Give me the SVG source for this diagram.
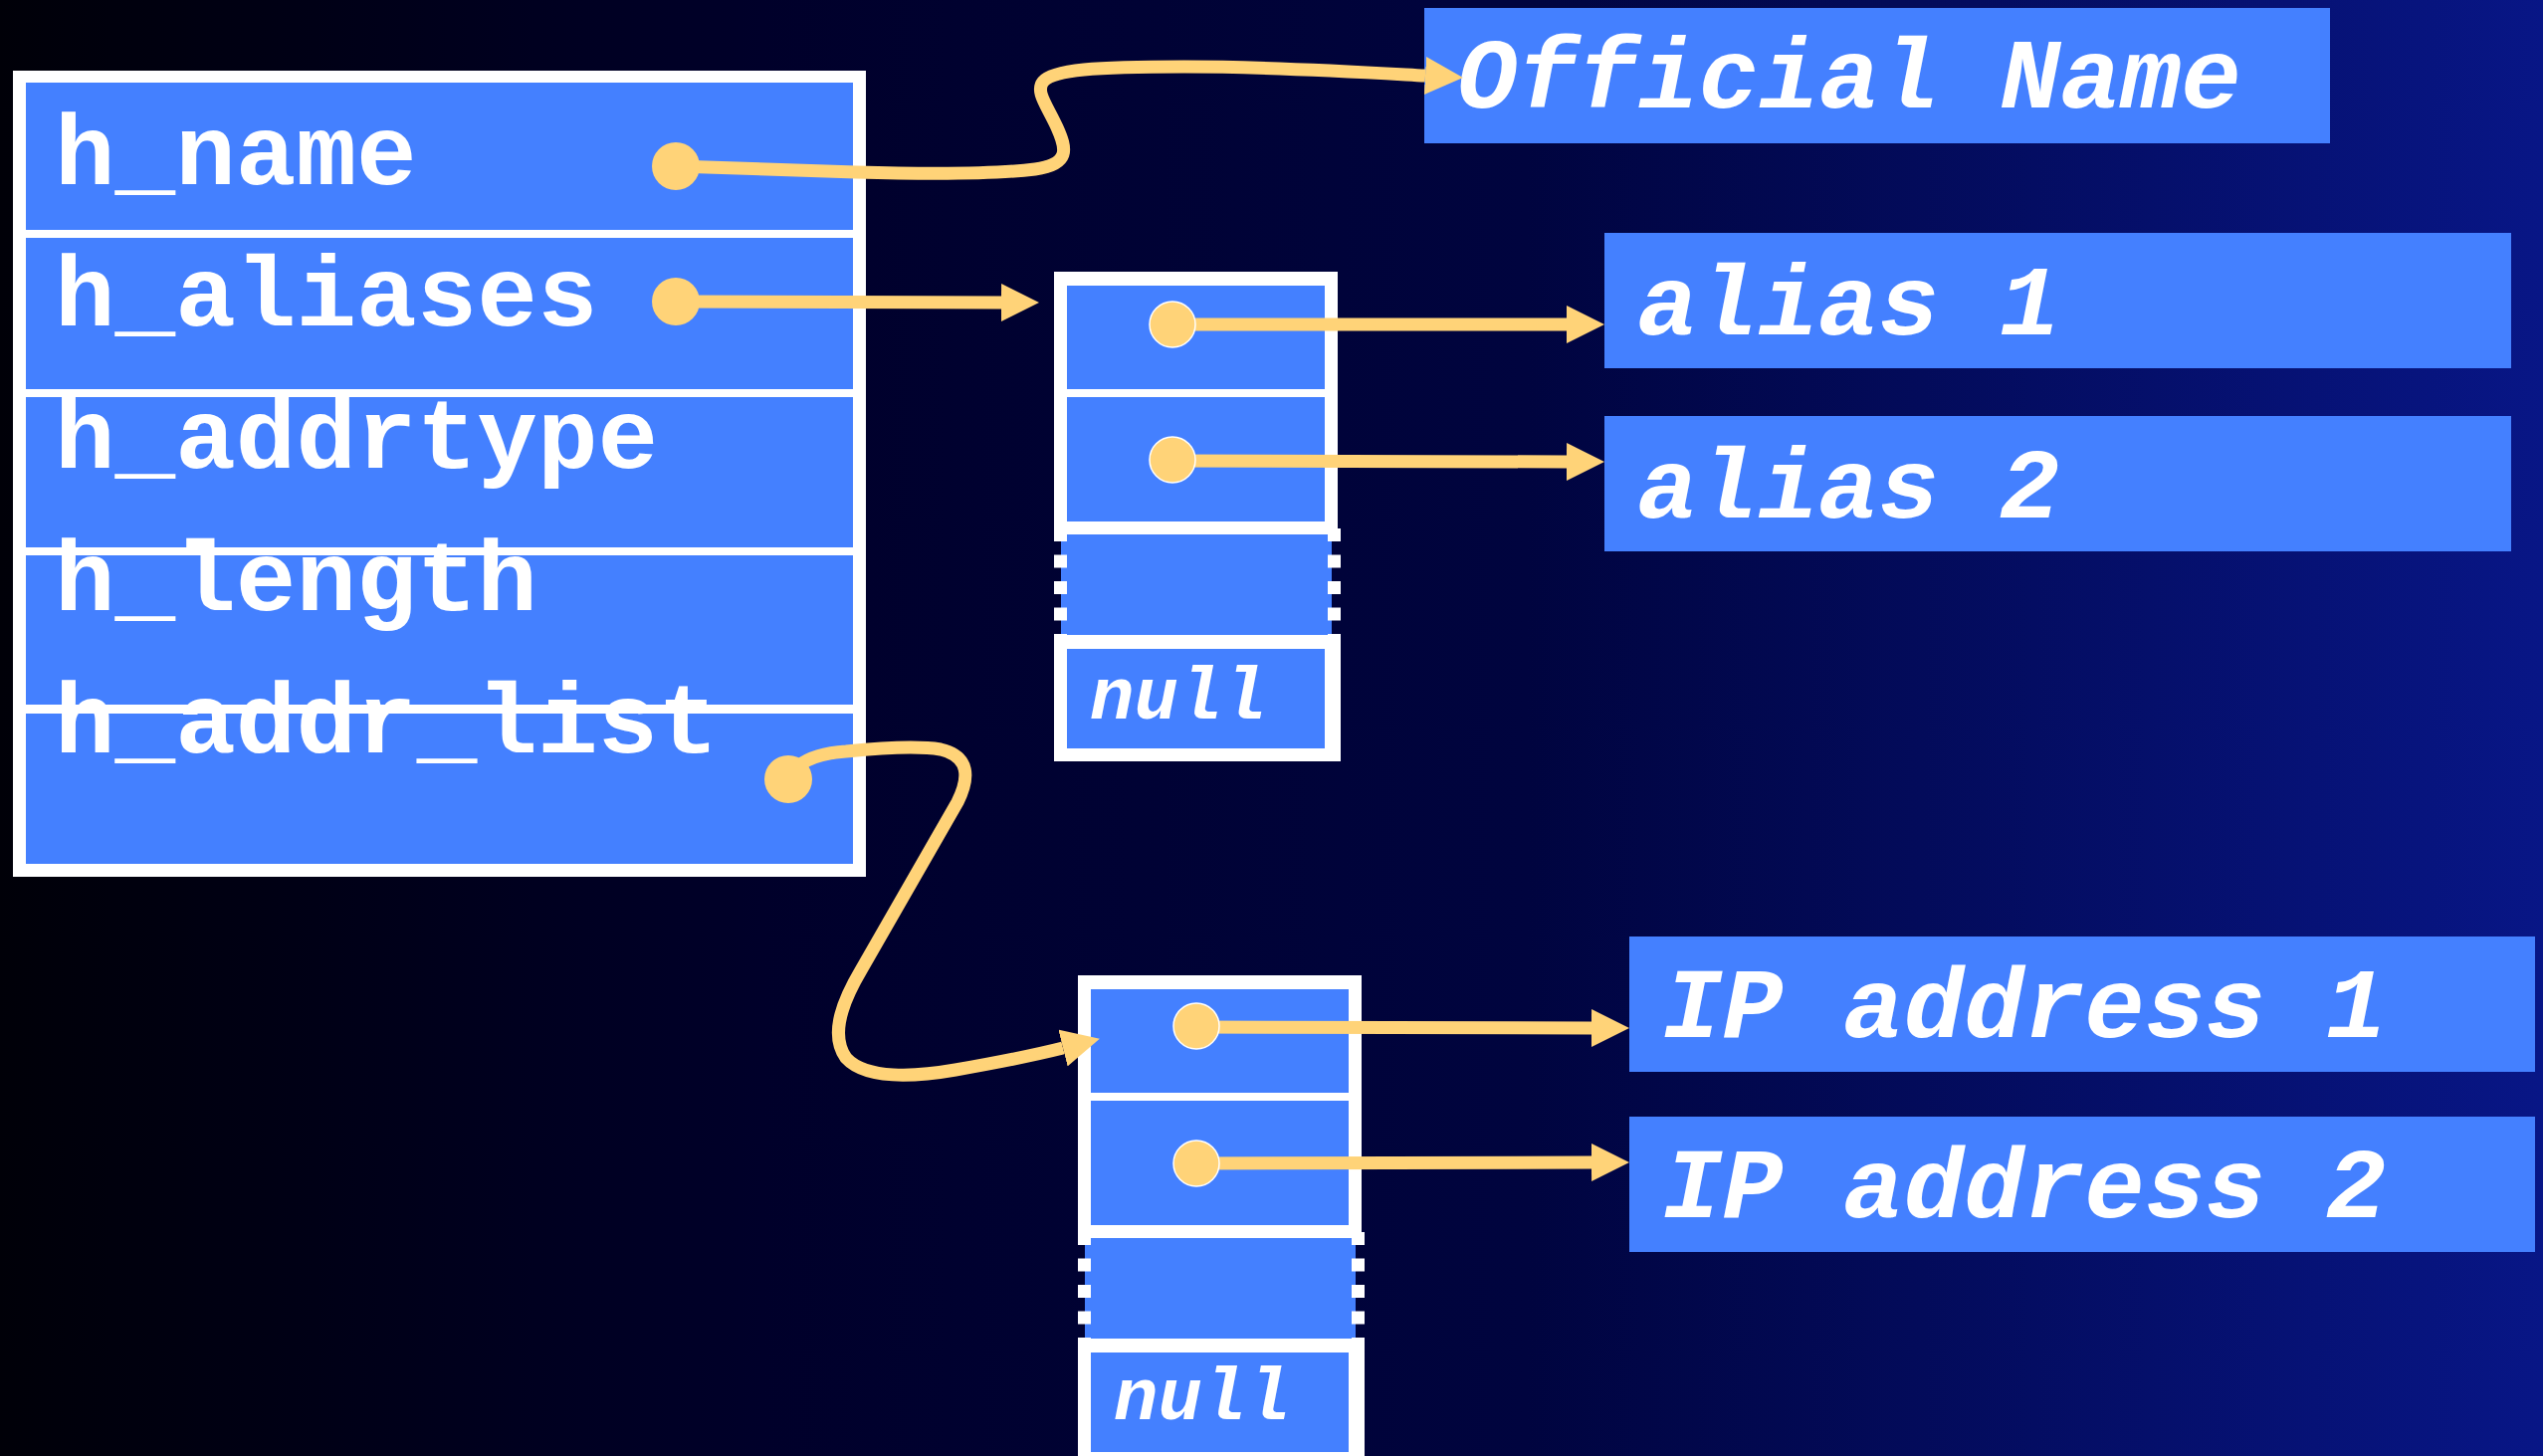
<svg xmlns="http://www.w3.org/2000/svg" width="2555" height="1463" viewBox="0 0 2555 1463">
  <defs>
    <linearGradient id="bg" x1="0" y1="0" x2="1" y2="0">
      <stop offset="0" stop-color="#000008"/>
      <stop offset="0.3" stop-color="#00002a"/>
      <stop offset="0.6" stop-color="#00043f"/>
      <stop offset="1" stop-color="#081686"/>
    </linearGradient>
    <!-- arrowhead: base sits at the path end, tip points forward -->
    <marker id="arrow" markerUnits="userSpaceOnUse" viewBox="0 0 38 38" refX="0" refY="19" markerWidth="38" markerHeight="38" orient="auto">
      <path d="M0,0 L38,19 L0,38 Z" fill="#ffd378"/>
    </marker>
    <style>
      .frame { fill: #ffffff; }
      .cell { fill: #4480ff; }
      .field { font-family: "Liberation Mono", "DejaVu Sans Mono", monospace; font-weight: bold; font-size: 101px; fill: #ffffff; }
      .value { font-family: "Liberation Mono", "DejaVu Sans Mono", monospace; font-weight: bold; font-style: italic; font-size: 101px; fill: #ffffff; }
      .nul { font-family: "Liberation Mono", "DejaVu Sans Mono", monospace; font-weight: bold; font-style: italic; font-size: 74px; fill: #ffffff; }
      .dash { stroke: #ffffff; stroke-width: 13; stroke-dasharray: 13 13.5; fill: none; }
      .link { stroke: #ffd378; stroke-width: 13; fill: none; stroke-linecap: butt; }
      .dot { fill: #ffd378; }
      .pdot { fill: #ffd378; stroke: #ffffff; stroke-width: 1.5; }
    </style>
  </defs>

  <rect width="2555" height="1463" fill="url(#bg)"/>

  <!-- struct hostent -->
  <g id="hostent">
    <rect class="frame" x="13" y="71" width="857" height="810"/>
    <rect class="cell" x="26" y="83" width="831" height="148"/>
    <rect class="cell" x="26" y="239" width="831" height="152"/>
    <rect class="cell" x="26" y="399" width="831" height="151"/>
    <rect class="cell" x="26" y="558" width="831" height="150"/>
    <rect class="cell" x="26" y="717" width="831" height="151"/>
    <text class="field" x="55" y="185">h_name</text>
    <text class="field" x="55" y="327">h_aliases</text>
    <text class="field" x="55" y="470">h_addrtype</text>
    <text class="field" x="55" y="613">h_length</text>
    <text class="field" x="55" y="756">h_addr_list</text>
  </g>

  <!-- alias pointer array -->
  <g id="alias-array" transform="translate(1059,273)">
    <rect class="frame" x="0" y="0" width="285" height="264"/>
    <rect class="cell" x="13" y="14" width="259" height="104"/>
    <rect class="cell" x="13" y="126" width="259" height="125"/>
    <rect class="cell" x="7" y="264" width="272" height="101"/>
    <line class="dash" x1="6.5" y1="258" x2="6.5" y2="365"/>
    <line class="dash" x1="281.5" y1="258" x2="281.5" y2="365"/>
    <rect class="frame" x="0" y="365" width="288" height="127"/>
    <rect class="cell" x="13" y="379" width="259" height="100"/>
    <text class="nul" x="36" y="449">null</text>
  </g>

  <!-- address pointer array -->
  <g id="addr-array" transform="translate(1083,980)">
    <rect class="frame" x="0" y="0" width="285" height="264"/>
    <rect class="cell" x="13" y="14" width="259" height="104"/>
    <rect class="cell" x="13" y="126" width="259" height="125"/>
    <rect class="cell" x="7" y="264" width="272" height="101"/>
    <line class="dash" x1="6.5" y1="258" x2="6.5" y2="365"/>
    <line class="dash" x1="281.5" y1="258" x2="281.5" y2="365"/>
    <rect class="frame" x="0" y="365" width="288" height="127"/>
    <rect class="cell" x="13" y="379" width="259" height="100"/>
    <text class="nul" x="36" y="446">null</text>
  </g>

  <g id="official-name">
    <rect class="cell" x="1431" y="8" width="910" height="136"/>
    <text class="value" x="1464" y="108">Official Name</text>
  </g>
  <g id="alias-1">
    <rect class="cell" x="1612" y="234" width="911" height="136"/>
    <text class="value" x="1645" y="336">alias 1</text>
  </g>
  <g id="alias-2">
    <rect class="cell" x="1612" y="418" width="911" height="136"/>
    <text class="value" x="1645" y="520">alias 2</text>
  </g>
  <g id="ip-1">
    <rect class="cell" x="1637" y="941" width="910" height="136"/>
    <text class="value" x="1670" y="1042">IP address 1</text>
  </g>
  <g id="ip-2">
    <rect class="cell" x="1637" y="1122" width="910" height="136"/>
    <text class="value" x="1670" y="1223">IP address 2</text>
  </g>

  <!-- pointers -->
  <g id="connectors">
    <path class="link" marker-end="url(#arrow)" d="M679,167 L860,173 C930,175 1000,175 1040,170 C1075,165 1072,150 1062,128 C1052,106 1040,92 1048,82 C1058,70 1100,67 1190,67 C1280,67 1360,72 1432,76"/>
    <circle class="dot" cx="679" cy="167" r="24"/>

    <path class="link" marker-end="url(#arrow)" d="M679,303 L1006,304"/>
    <circle class="dot" cx="679" cy="303" r="24"/>

    <path class="link" marker-end="url(#arrow)" d="M792,783 C800,765 820,757 850,755 C880,752 920,749 945,753 C975,760 974,782 962,806 L865,975 C843,1012 835,1042 850,1063 C870,1085 920,1082 960,1075 C1000,1068 1040,1060 1068,1053"/>
    <circle class="dot" cx="792" cy="783" r="24"/>

    <path class="link" marker-end="url(#arrow)" d="M1178,326 L1574,326"/>
    <circle class="pdot" cx="1178" cy="326" r="23"/>
    <path class="link" marker-end="url(#arrow)" d="M1178,463 L1574,464"/>
    <circle class="pdot" cx="1178" cy="462" r="23"/>

    <path class="link" marker-end="url(#arrow)" d="M1202,1032 L1599,1033"/>
    <circle class="pdot" cx="1202" cy="1031" r="23"/>
    <path class="link" marker-end="url(#arrow)" d="M1202,1169 L1599,1168"/>
    <circle class="pdot" cx="1202" cy="1169" r="23"/>
  </g>
</svg>
